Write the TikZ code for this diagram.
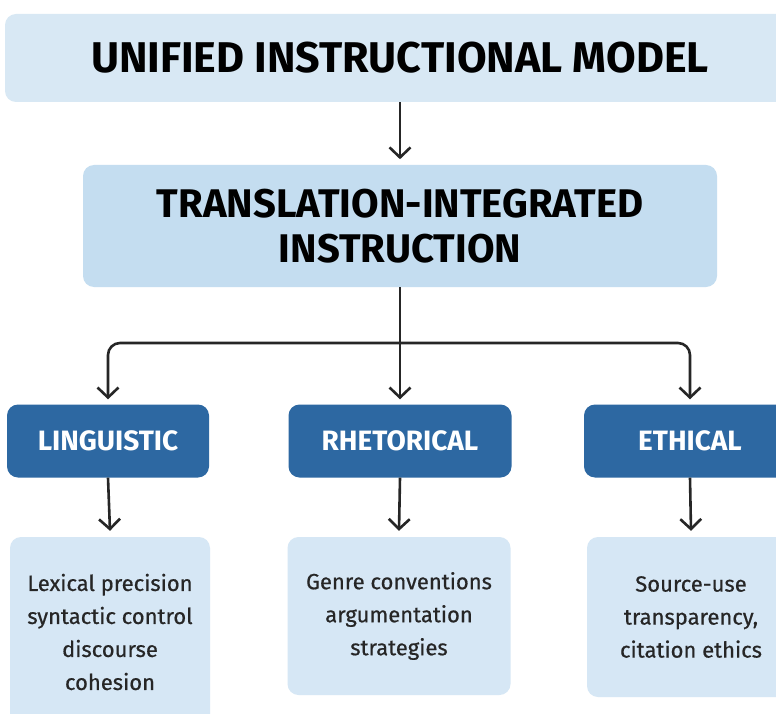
\documentclass[tikz,border=0pt]{standalone}
\usepackage{fontspec}
\setmainfont{Fira Sans}
\usetikzlibrary{arrows.meta}
\definecolor{paleblue}{HTML}{D8E8F4}
\definecolor{midblue}{HTML}{C4DDF0}
\definecolor{deepblue}{HTML}{2D68A2}
\definecolor{softblue}{HTML}{D6E7F5}
\definecolor{linegray}{HTML}{262626}
\begin{document}
\begin{tikzpicture}[x=1pt,y=1pt,
  box/.style={rounded corners=11pt, align=center, inner sep=0pt},
  modelbox/.style={box, fill=paleblue, minimum width=790pt, minimum height=88pt,
    font=\fontsize{43}{45}\selectfont\bfseries},
  tiibox/.style={box, fill=midblue, minimum width=634pt, minimum height=122pt,
    font=\fontsize{40}{45}\selectfont\bfseries},
  strand/.style={box, fill=deepblue, text=white, minimum height=73pt,
    font=\fontsize{28}{30}\selectfont\bfseries},
  detail/.style={box, fill=softblue, text=linegray,
    font=\fontsize{22}{33}\selectfont\addfontfeature{FakeBold=0.6}},
  link/.style={draw=linegray, line width=2.6pt},
  arr/.style={link, -{Straight Barb[length=10pt,width=21pt,line width=2.6pt]}},
]
\clip (0,0) rectangle (776,-714);
\fill[white] (0,0) rectangle (776,-714);
\node[modelbox] (mod) at (400,-58) {UNIFIED INSTRUCTIONAL MODEL};
\node[tiibox] (tii) at (400,-226) {TRANSLATION-INTEGRATED\\INSTRUCTION};
\node[strand, minimum width=202pt] (lin) at (108,-441) {LINGUISTIC};
\node[strand, minimum width=223pt] (rhe) at (400,-441) {RHETORICAL};
\node[strand, minimum width=212pt] (eth) at (690,-441) {ETHICAL};
\node[detail, minimum width=200pt, minimum height=190pt] (linx) at (110,-632) {Lexical precision\\syntactic control\\discourse\\cohesion};
\node[detail, minimum width=223pt, minimum height=158pt] (rhex) at (399,-616) {Genre conventions\\argumentation\\strategies};
\node[detail, minimum width=208pt, minimum height=160pt] (ethx) at (691,-617) {Source-use\\transparency,\\citation ethics};
\coordinate (fork) at (400,-343);
\draw[arr] (mod.south -| tii) -- ++(0,-57);
\draw[link] (tii.south) -- (fork);
\draw[arr, rounded corners=12pt] (fork) -| ([yshift=5pt]lin.north);
\draw[arr] (fork) -- ([yshift=5pt]rhe.north);
\draw[arr, rounded corners=12pt] (fork) -| ([yshift=5pt]eth.north);
\draw[arr] (lin.south) -- ([yshift=6pt]linx.north);
\draw[arr] (rhe.south) -- ([yshift=6pt]rhex.north);
\draw[arr] (eth.south) -- ([yshift=6pt]ethx.north);
\end{tikzpicture}
\end{document}
